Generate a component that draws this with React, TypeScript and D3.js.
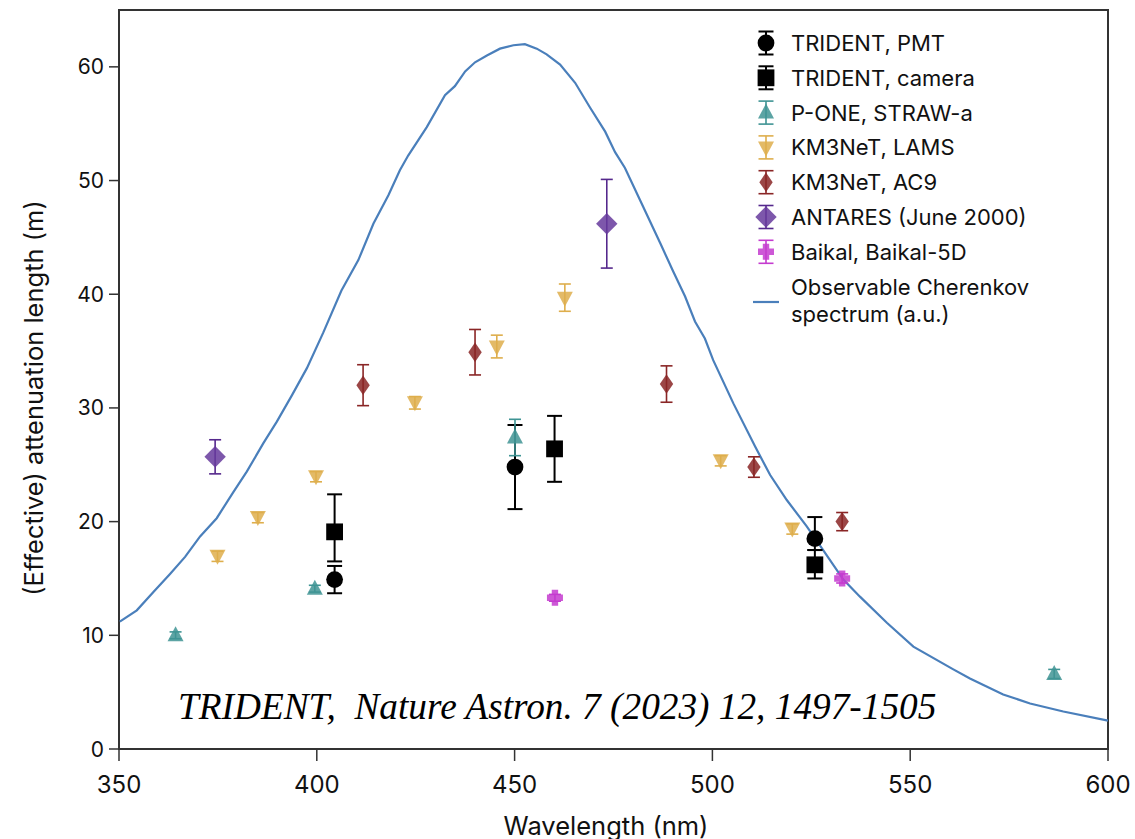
import React from 'react';
import * as d3 from 'd3';

// ---------- data ----------
const xTicks = [350, 400, 450, 500, 550, 600];
const yTicks = [0, 10, 20, 30, 40, 50, 60];

const cherenkovNm = [350.2, 354.5, 358.7, 362.9, 366.7, 370.5, 374.7, 378.9, 382.3, 386.5, 389.9, 393.7, 397.5, 401.6, 406.2, 410.5, 414.3, 418.1, 421.0, 423.1, 427.8, 432.4, 434.9, 437.5, 440.0, 443.0, 446.3, 449.7, 452.6, 455.6, 458.1, 461.5, 465.3, 469.1, 472.9, 475.4, 477.9, 482.5, 486.8, 490.1, 493.1, 495.6, 498.1, 500.2, 505.3, 510.8, 514.6, 518.8, 523.8, 528.0, 533.1, 537.3, 544.1, 550.8, 560.9, 565.1, 569.3, 573.5, 580.3, 588.7, 600.0];
const cherenkovVal = [11.2, 12.2, 13.8, 15.4, 16.9, 18.7, 20.3, 22.6, 24.4, 26.9, 28.8, 31.1, 33.5, 36.6, 40.3, 43.0, 46.2, 48.7, 50.9, 52.2, 54.7, 57.5, 58.3, 59.6, 60.4, 61.0, 61.6, 61.9, 62.0, 61.6, 61.1, 60.2, 58.6, 56.4, 54.3, 52.5, 51.1, 47.7, 44.5, 42.0, 39.8, 37.6, 36.1, 34.2, 30.4, 26.6, 24.1, 21.9, 19.6, 17.5, 14.9, 13.4, 11.1, 9.0, 7.0, 6.2, 5.5, 4.8, 4.0, 3.3, 2.5];

const tridentPmtNm = [404.5, 450.1, 525.9];
const tridentPmtVal = [14.9, 24.8, 18.5];
const tridentPmtErrLo = [1.2, 3.7, 1.0];
const tridentPmtErrHi = [1.2, 3.7, 1.9];

const tridentCamNm = [404.5, 460.1, 525.9];
const tridentCamVal = [19.1, 26.4, 16.2];
const tridentCamErrLo = [2.6, 2.9, 1.2];
const tridentCamErrHi = [3.3, 2.9, 1.3];

const poneNm = [364.3, 399.5, 450.1, 586.4];
const poneVal = [10.0, 14.1, 27.4, 6.6];
const poneErrLo = [0.3, 0.3, 1.6, 0.4];
const poneErrHi = [0.3, 0.3, 1.6, 0.4];

const lamsNm = [374.9, 385.1, 399.8, 424.8, 445.5, 462.7, 502.1, 520.2];
const lamsVal = [17.0, 20.4, 24.0, 30.5, 35.4, 39.7, 25.4, 19.4];
const lamsErrLo = [0.5, 0.5, 0.5, 0.6, 1.0, 1.2, 0.5, 0.5];
const lamsErrHi = [0.4, 0.4, 0.4, 0.5, 1.0, 1.2, 0.4, 0.4];

const ac9Nm = [411.7, 440.0, 488.4, 510.5, 532.8];
const ac9Val = [32.0, 34.9, 32.1, 24.8, 20.0];
const ac9ErrLo = [1.8, 2.0, 1.6, 0.9, 0.8];
const ac9ErrHi = [1.8, 2.0, 1.6, 0.9, 0.8];

const antaresNm = [374.3, 473.3];
const antaresVal = [25.7, 46.2];
const antaresErrLo = [1.5, 3.9];
const antaresErrHi = [1.5, 3.9];

const baikalNm = [460.2, 532.8];
const baikalVal = [13.3, 15.0];
const baikalErrLo = [0.3, 0.4];
const baikalErrHi = [0.3, 0.4];

const legendLabels = [
  'TRIDENT, PMT',
  'TRIDENT, camera',
  'P-ONE, STRAW-a',
  'KM3NeT, LAMS',
  'KM3NeT, AC9',
  'ANTARES (June 2000)',
  'Baikal, Baikal-5D',
];
const lineLabel = ['Observable Cherenkov', 'spectrum (a.u.)'];
const annotation = 'TRIDENT,  Nature Astron. 7 (2023) 12, 1497-1505';

// ---------- styling ----------
type Shape = 'circle' | 'square' | 'triUp' | 'triDown' | 'diamondNarrow' | 'diamondBig' | 'plus';

function markerPath(shape: Shape): string {
  switch (shape) {
    case 'circle': {
      const r = 8.4;
      return `M${-r},0A${r},${r} 0 1,0 ${r},0A${r},${r} 0 1,0 ${-r},0Z`;
    }
    case 'square': {
      const s = 8.4;
      return `M${-s},${-s}H${s}V${s}H${-s}Z`;
    }
    case 'triUp':
      return 'M0,-9L8,6L-8,6Z';
    case 'triDown':
      return 'M-8,-6L8,-6L0,9Z';
    case 'diamondNarrow':
      return 'M0,-9.7L6.7,0L0,9.7L-6.7,0Z';
    case 'diamondBig':
      return 'M0,-10.7L10.7,0L0,10.7L-10.7,0Z';
    case 'plus': {
      const a = 8, t = 3.2;
      return `M${-t},${-a}H${t}V${-t}H${a}V${t}H${t}V${a}H${-t}V${t}H${-a}V${-t}H${-t}Z`;
    }
  }
  return '';
}

const series = [
  { nm: tridentPmtNm, val: tridentPmtVal, lo: tridentPmtErrLo, hi: tridentPmtErrHi, shape: 'circle' as Shape, fill: '#000000', bar: '#000000', op: 1, cap: 15, sw: 2 },
  { nm: tridentCamNm, val: tridentCamVal, lo: tridentCamErrLo, hi: tridentCamErrHi, shape: 'square' as Shape, fill: '#000000', bar: '#000000', op: 1, cap: 15, sw: 2 },
  { nm: poneNm, val: poneVal, lo: poneErrLo, hi: poneErrHi, shape: 'triUp' as Shape, fill: '#3f9494', bar: '#3f9494', op: 0.85, cap: 12, sw: 1.6 },
  { nm: lamsNm, val: lamsVal, lo: lamsErrLo, hi: lamsErrHi, shape: 'triDown' as Shape, fill: '#deae4c', bar: '#deae4c', op: 0.85, cap: 12, sw: 1.6 },
  { nm: ac9Nm, val: ac9Val, lo: ac9ErrLo, hi: ac9ErrHi, shape: 'diamondNarrow' as Shape, fill: '#8a2626', bar: '#8a2626', op: 0.85, cap: 12, sw: 1.6 },
  { nm: antaresNm, val: antaresVal, lo: antaresErrLo, hi: antaresErrHi, shape: 'diamondBig' as Shape, fill: '#663a9c', bar: '#55288c', op: 0.85, cap: 12, sw: 1.6 },
  { nm: baikalNm, val: baikalVal, lo: baikalErrLo, hi: baikalErrHi, shape: 'plus' as Shape, fill: '#c43bcf', bar: '#c43bcf', op: 0.85, cap: 12, sw: 1.6 },
];

const lineColor = '#4a7fbb';
const axisColor = '#333333';
const uiFont = 'Inter, "Noto Sans", sans-serif';

export default function App() {
  const x = d3.scaleLinear().domain([350, 600]).range([119, 1108]);
  const y = d3.scaleLinear().domain([0, 65]).range([749, 10]);
  const line = d3.line<number>()
    .x((_, i) => x(cherenkovNm[i]))
    .y((d) => y(d));

  return (
    <svg width={1135} height={839} style={{ position: 'absolute', left: 0, top: 0, background: '#fff' }}>
      <rect x={0} y={0} width={1135} height={839} fill="#fff" />
      {/* frame */}
      <rect x={x(350)} y={y(65)} width={x(600) - x(350)} height={y(0) - y(65)} fill="none" stroke={axisColor} strokeWidth={2} />
      {/* x ticks */}
      {xTicks.map((t) => (
        <g key={'xt' + t}>
          <line x1={x(t)} x2={x(t)} y1={y(0)} y2={y(0) + 12} stroke={axisColor} strokeWidth={1.5} />
          <text x={x(t)} y={y(0) + 35} textAnchor="middle" dominantBaseline="central" fontFamily={uiFont} fontSize={24} fill="#111">{t}</text>
        </g>
      ))}
      {/* y ticks */}
      {yTicks.map((t) => (
        <g key={'yt' + t}>
          <line x1={x(350) - 10} x2={x(350)} y1={y(t)} y2={y(t)} stroke={axisColor} strokeWidth={1.5} />
          <text x={x(350) - 15} y={y(t)} textAnchor="end" dominantBaseline="central" fontFamily={uiFont} fontSize={21} fill="#111">{t}</text>
        </g>
      ))}
      <text x={606} y={825} textAnchor="middle" dominantBaseline="central" fontFamily={uiFont} fontSize={25.5} fill="#111">Wavelength (nm)</text>
      <text transform={`translate(33,398) rotate(-90)`} textAnchor="middle" dominantBaseline="central" fontFamily={uiFont} fontSize={25.5} fill="#111">(Effective) attenuation length (m)</text>

      {/* Cherenkov curve */}
      <path d={line(cherenkovVal) || ''} fill="none" stroke={lineColor} strokeWidth={2.2} />

      {/* data */}
      {series.map((s, si) => (
        <g key={'s' + si}>
          {s.nm.map((nm, i) => {
            const cx = x(nm);
            const y1 = y(s.val[i] + s.hi[i]);
            const y2 = y(s.val[i] - s.lo[i]);
            return (
              <g key={i}>
                <line x1={cx} x2={cx} y1={y1} y2={y2} stroke={s.bar} strokeWidth={s.sw} />
                <line x1={cx - s.cap / 2} x2={cx + s.cap / 2} y1={y1} y2={y1} stroke={s.bar} strokeWidth={s.sw} />
                <line x1={cx - s.cap / 2} x2={cx + s.cap / 2} y1={y2} y2={y2} stroke={s.bar} strokeWidth={s.sw} />
                <path d={markerPath(s.shape)} transform={`translate(${cx},${y(s.val[i])})`} fill={s.fill} fillOpacity={s.op} />
              </g>
            );
          })}
        </g>
      ))}

      {/* annotation */}
      <text x={178} y={719} xmlSpace="preserve" style={{ whiteSpace: 'pre' }} fontFamily='"Liberation Serif", "Times New Roman", serif' fontStyle="italic" fontSize={37.3} fill="#000">{annotation}</text>

      {/* legend */}
      {series.map((s, si) => {
        const ly = 43 + si * 34.8;
        const lx = 766;
        return (
          <g key={'lg' + si}>
            <line x1={lx} x2={lx} y1={ly - 11.5} y2={ly + 11.5} stroke={s.bar} strokeWidth={s.sw} />
            <line x1={lx - 7.5} x2={lx + 7.5} y1={ly - 11.5} y2={ly - 11.5} stroke={s.bar} strokeWidth={s.sw} />
            <line x1={lx - 7.5} x2={lx + 7.5} y1={ly + 11.5} y2={ly + 11.5} stroke={s.bar} strokeWidth={s.sw} />
            <path d={markerPath(s.shape)} transform={`translate(${lx},${ly})`} fill={s.fill} fillOpacity={s.op} />
            <text x={791} y={ly} dominantBaseline="central" fontFamily={uiFont} fontSize={22} fill="#111">{legendLabels[si]}</text>
          </g>
        );
      })}
      <line x1={753} x2={779} y1={302} y2={302} stroke={lineColor} strokeWidth={2.2} />
      <text x={791} y={287} dominantBaseline="central" fontFamily={uiFont} fontSize={22} fill="#111">{lineLabel[0]}</text>
      <text x={791} y={314} dominantBaseline="central" fontFamily={uiFont} fontSize={22} fill="#111">{lineLabel[1]}</text>
    </svg>
  );
}
